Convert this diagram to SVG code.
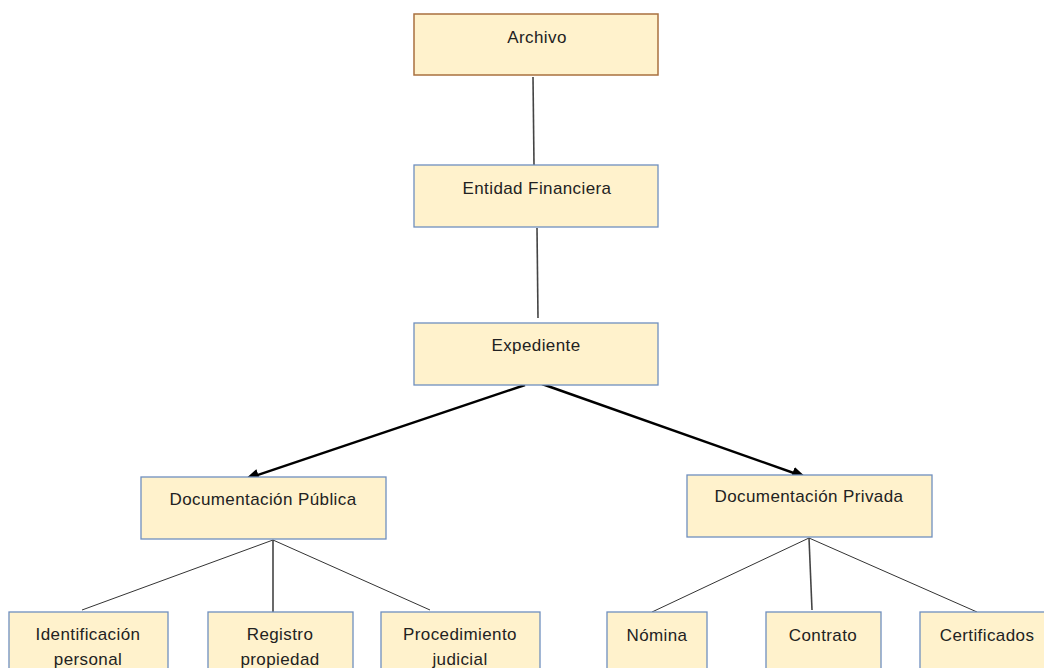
<svg xmlns="http://www.w3.org/2000/svg" width="1044" height="668" viewBox="0 0 1044 668">
<defs>
<style>
.box{fill:#fff2cc;stroke:#6f8fbf;stroke-width:1.3}
.box.top{stroke:#a9703f;stroke-width:1.5}
.t{font-family:"Liberation Sans",Arial,sans-serif;font-size:17px;fill:#222;text-anchor:middle;letter-spacing:0.4px}
.thin{stroke:#333;stroke-width:1;fill:none}
.mid{stroke:#444;stroke-width:1.6;fill:none}
.arr{stroke:#000;stroke-width:2.5;fill:none;marker-end:url(#ah)}
</style>
<marker id="ah" viewBox="0 0 14 12" refX="13" refY="6" markerWidth="14" markerHeight="12" markerUnits="userSpaceOnUse" orient="auto">
<path d="M0,0 L14,6 L0,12 z" fill="#000"/>
</marker>
</defs>
<rect width="1044" height="668" fill="#fff"/>
<g id="connectors">
<line class="mid" x1="533" y1="77" x2="534" y2="165"/>
<line class="mid" x1="537" y1="228" x2="538" y2="318"/>
<line class="arr" x1="525" y1="385" x2="246" y2="479"/>
<line class="arr" x1="542" y1="384" x2="805" y2="477"/>
<line class="thin" x1="273" y1="540" x2="82" y2="610"/>
<line class="mid" x1="273" y1="540" x2="273" y2="612"/>
<line class="thin" x1="273" y1="540" x2="430" y2="610"/>
<line class="thin" x1="809" y1="538" x2="652" y2="612"/>
<line class="mid" x1="809" y1="538" x2="812" y2="610"/>
<line class="thin" x1="809" y1="538" x2="977" y2="612"/>
</g>
<g id="archivo"><rect class="box top" x="414" y="14" width="244" height="61"/><text class="t" x="537" y="43">Archivo</text></g>
<g id="entidad"><rect class="box" x="414" y="165" width="244" height="62"/><text class="t" x="537" y="194">Entidad Financiera</text></g>
<g id="expediente"><rect class="box" x="414" y="323" width="244" height="62"/><text class="t" x="536" y="351">Expediente</text></g>
<g id="publica"><rect class="box" x="141" y="477" width="245" height="62"/><text class="t" x="263" y="505">Documentación Pública</text></g>
<g id="privada"><rect class="box" x="687" y="475" width="245" height="62"/><text class="t" x="809" y="502">Documentación Privada</text></g>
<g id="identificacion"><rect class="box" x="9" y="612" width="159" height="70"/><text class="t" x="88" y="640">Identificación</text><text class="t" x="88" y="665">personal</text></g>
<g id="registro"><rect class="box" x="208" y="612" width="145" height="70"/><text class="t" x="280" y="640">Registro</text><text class="t" x="280" y="665">propiedad</text></g>
<g id="procedimiento"><rect class="box" x="381" y="612" width="159" height="70"/><text class="t" x="460" y="640">Procedimiento</text><text class="t" x="460" y="665">judicial</text></g>
<g id="nomina"><rect class="box" x="607" y="612" width="100" height="70"/><text class="t" x="657" y="641">Nómina</text></g>
<g id="contrato"><rect class="box" x="766" y="612" width="115" height="70"/><text class="t" x="823" y="641">Contrato</text></g>
<g id="certificados"><rect class="box" x="920" y="612" width="140" height="70"/><text class="t" x="987" y="641">Certificados</text></g>
</svg>
